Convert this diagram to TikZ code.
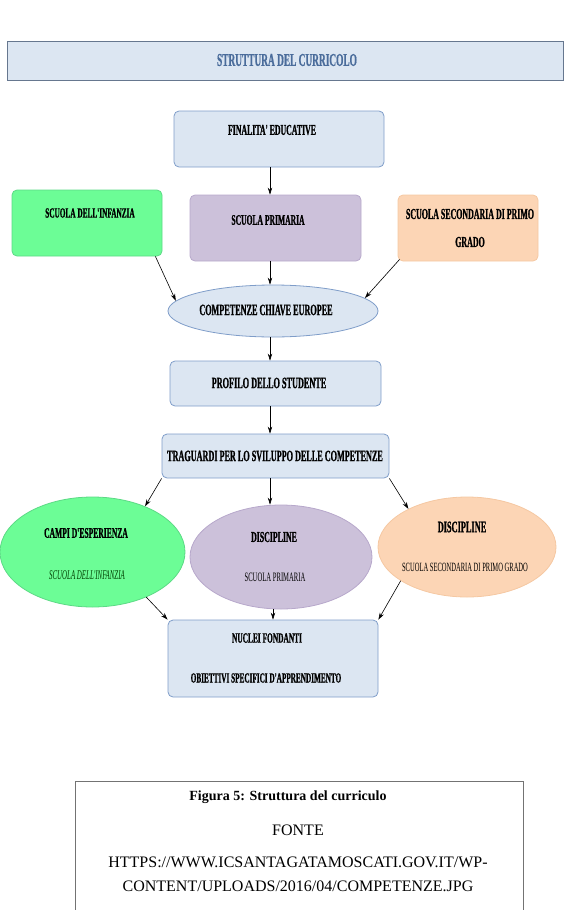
\documentclass[tikz,border=0pt]{standalone}
\usepackage{fontspec}
\setmainfont{Liberation Serif}
\newfontfamily\narrowfont[FakeStretch=0.52,FakeBold=0.8]{Liberation Serif}
\newfontfamily\narrowlight[FakeStretch=0.52]{Liberation Serif}
\usetikzlibrary{arrows.meta,shapes.geometric,positioning}

% colori
\definecolor{boxblue}{HTML}{DCE6F2}
\definecolor{lineblue}{HTML}{7F9DC9}
\definecolor{barline}{HTML}{66778F}
\definecolor{titleblue}{HTML}{4A6C9B}
\definecolor{greenfill}{HTML}{6CFD96}
\definecolor{greenline}{HTML}{5CD985}
\definecolor{lilacfill}{HTML}{CCC1DA}
\definecolor{lilacline}{HTML}{B7A8CB}
\definecolor{peachfill}{HTML}{FCD5B5}
\definecolor{peachline}{HTML}{F5C8A2}

\newcommand\fsz[1]{\fontsize{#1}{#1}\selectfont}

\tikzset{
  blockbox/.style={draw=lineblue, fill=boxblue, rounded corners=5pt, inner sep=0pt, line width=0.8pt},
  bubble/.style={ellipse, draw, inner sep=0pt, line width=0.8pt},
  arr/.style={-{Stealth[length=7pt,width=4.5pt]}, line width=0.6pt},
  lbl/.style={inner sep=0pt, font=\narrowfont\bfseries},
}

\begin{document}
\begin{tikzpicture}[x=1pt, y=-1pt]
    \useasboundingbox (0,0) rectangle (580,910);

    % --- titolo ---
    \node[draw=barline, fill=boxblue, line width=1pt, minimum width=556pt, minimum height=39pt] (bar) at (285,60.5) {};
    \node[lbl, text=titleblue] (barT) at (287,60) {\fsz{18}STRUTTURA DEL CURRICOLO};

    % --- riquadri in alto ---
    \node[blockbox, minimum width=210pt, minimum height=56pt] (fin) at (279,139) {};
    \node[blockbox, draw=greenline, fill=greenfill, minimum width=150pt, minimum height=66pt] (inf) at (87,223) {};
    \node[blockbox, draw=lilacline, fill=lilacfill, minimum width=171pt, minimum height=66pt] (pri) at (275.5,228) {};
    \node[blockbox, draw=peachline, fill=peachfill, minimum width=140pt, minimum height=66pt] (sec) at (468,228) {};

    \node[lbl] (finT) at (272,130) {\fsz{15}FINALITA' EDUCATIVE};
    \node[lbl] (infT) at (90,213) {\fsz{14}SCUOLA DELL'INFANZIA};
    \node[lbl] (priT) at (268,220) {\fsz{14.6}SCUOLA PRIMARIA};
    \node[lbl] (secT1) at (470,214) {\fsz{15.2}SCUOLA SECONDARIA DI PRIMO};
    \node[lbl] (secT2) at (470,242) {\fsz{15.2}GRADO};

    % --- colonna centrale ---
    \node[bubble, draw=lineblue, fill=boxblue, minimum width=210pt, minimum height=52pt] (comp) at (273,311) {};
    \node[lbl] (compT) at (266,310) {\fsz{15.7}COMPETENZE CHIAVE EUROPEE};
    \node[blockbox, minimum width=211pt, minimum height=45pt] (prof) at (275.5,383.5) {};
    \node[lbl] (profT) at (269,383) {\fsz{15.8}PROFILO DELLO STUDENTE};
    \node[blockbox, minimum width=227pt, minimum height=44pt] (trag) at (275.5,456) {};
    \node[lbl] (tragT) at (275,456) {\fsz{15.7}TRAGUARDI PER LO SVILUPPO DELLE COMPETENZE};

    % --- ellissi ---
    \node[bubble, draw=greenline, fill=greenfill, minimum width=185pt, minimum height=110pt] (campi) at (92.5,552) {};
    \node[bubble, draw=lilacline, fill=lilacfill, minimum width=182pt, minimum height=104pt] (disc1) at (281,557) {};
    \node[bubble, draw=peachline, fill=peachfill, minimum width=178pt, minimum height=100pt] (disc2) at (467,547) {};

    \node[lbl] (campiT1) at (86,533) {\fsz{14.6}CAMPI D'ESPERIENZA};
    \node[lbl, font=\narrowlight\itshape, text=black!75!green] (campiT2) at (87,575) {\fsz{13.3}SCUOLA DELL'INFANZIA};
    \node[lbl] (disc1T1) at (274,537) {\fsz{15.1}DISCIPLINE};
    \node[lbl, font=\narrowlight] (disc1T2) at (275,577) {\fsz{12.8}SCUOLA PRIMARIA};
    \node[lbl] (disc2T1) at (462,527) {\fsz{16}DISCIPLINE};
    \node[lbl, font=\narrowlight] (disc2T2) at (465,567) {\fsz{12.6}SCUOLA SECONDARIA DI PRIMO GRADO};

    % --- riquadro finale ---
    \node[blockbox, minimum width=210pt, minimum height=77pt] (nuc) at (273,658.5) {};
    \node[lbl] (nucT1) at (267,638) {\fsz{14.2}NUCLEI FONDANTI};
    \node[lbl] (nucT2) at (266,678) {\fsz{13.9}OBIETTIVI SPECIFICI D'APPRENDIMENTO};

    % --- frecce ---
    \coordinate (ax) at (270,0);
    \coordinate (bx) at (273,0);
    \draw[arr] (fin.south -| ax) -- (pri.north -| ax);
    \draw[arr] (pri.south -| ax) -- (comp.north -| ax);
    \draw[arr] ([xshift=-7pt]inf.south east) -- (comp.174);
    \draw[arr] ([xshift=2pt,yshift=2pt]sec.south west) -- (comp.8);
    \draw[arr] (comp.south -| ax) -- (prof.north -| ax);
    \draw[arr] (prof.south -| ax) -- (trag.north -| ax);
    \draw[arr] (trag.south west) -- (campi.41);
    \draw[arr] (trag.south -| ax) -- (disc1.north -| ax);
    \draw[arr] (trag.south east) -- (disc2.147);
    \draw[arr] (campi.-40) -- (nuc.north west);
    \draw[arr] (disc1.south -| bx) -- (nuc.north -| bx);
    \draw[arr] (disc2.207) -- (nuc.north east);

    % --- didascalia ---
    \node[draw=black!55, line width=1pt, minimum width=448pt, minimum height=160pt, anchor=north west] (cap) at (75,781) {};
    \node[inner sep=0pt, font=\bfseries] (capT1) at (288,797) {\fsz{14}Figura 5: Struttura del curriculo};
    \node[inner sep=0pt] (capT2) at (298,830) {\fsz{16}FONTE};
    \node[inner sep=0pt] (capT3) at (298,862) {\fsz{16}HTTPS://WWW.ICSANTAGATAMOSCATI.GOV.IT/WP-};
    \node[inner sep=0pt] (capT4) at (298,886) {\fsz{16}CONTENT/UPLOADS/2016/04/COMPETENZE.JPG};
\end{tikzpicture}
\end{document}
